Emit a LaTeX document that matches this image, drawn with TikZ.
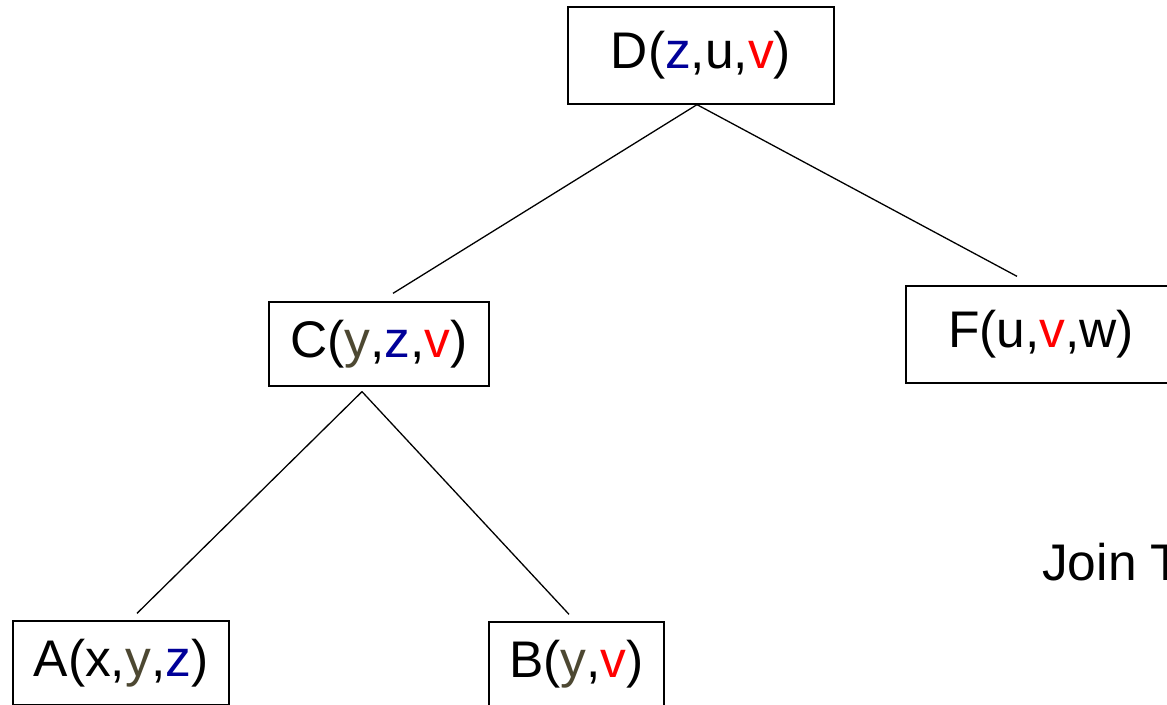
\documentclass[tikz,border=0pt]{standalone}
\usepackage{xcolor}
\usepackage{fontspec}
\setmainfont{Liberation Sans}
\usepackage{tikz}
\usetikzlibrary{positioning}

\definecolor{varz}{RGB}{0,0,153}
\definecolor{vary}{RGB}{77,72,50}
\definecolor{varv}{RGB}{255,0,0}

\begin{document}
\begin{tikzpicture}[
    x=1pt, y=1pt,
    relbox/.style={rectangle, draw, line width=1.3pt, inner sep=0pt, minimum height=84pt,
        font=\fontsize{51.5}{60}\selectfont},
    edge/.style={line width=1.3pt}
]
\useasboundingbox (0,0) rectangle (1167,704);
\clip (0,0) rectangle (1167,704);

% Relations
\node[relbox, minimum width=266pt, minimum height=97pt] (D) at (701,648.5)
    {D(\textcolor{varz}{z},u,\textcolor{varv}{v})};
\node[relbox, minimum width=220pt] (C) at (379,360)
    {C(\textcolor{vary}{y},\textcolor{varz}{z},\textcolor{varv}{v})};
\node[relbox, minimum width=270pt, minimum height=97pt] (F) at (1041,369.5)
    {F(u,\textcolor{varv}{v},w)};
\node[relbox, minimum width=216pt] (A) at (121,41)
    {A(x,\textcolor{vary}{y},\textcolor{varz}{z})};
\node[relbox, minimum width=175pt] (B) at (576.5,40)
    {B(\textcolor{vary}{y},\textcolor{varv}{v})};

% Edges
\draw[edge] ([xshift=-4pt]D.south) -- ([shift={(14,8)}]C.north);
\draw[edge] ([xshift=-4pt]D.south) -- ([shift={(-24,9)}]F.north);
\draw[edge] ([shift={(-17,-5)}]C.south) -- ([shift={(16,7)}]A.north);
\draw[edge] ([shift={(-17,-5)}]C.south) -- ([shift={(-7.5,7)}]B.north);

% Caption
\node[anchor=base west, inner sep=0pt, font=\fontsize{51.5}{60}\selectfont] (title) at (1042,123) {Join T};

\end{tikzpicture}
\end{document}
